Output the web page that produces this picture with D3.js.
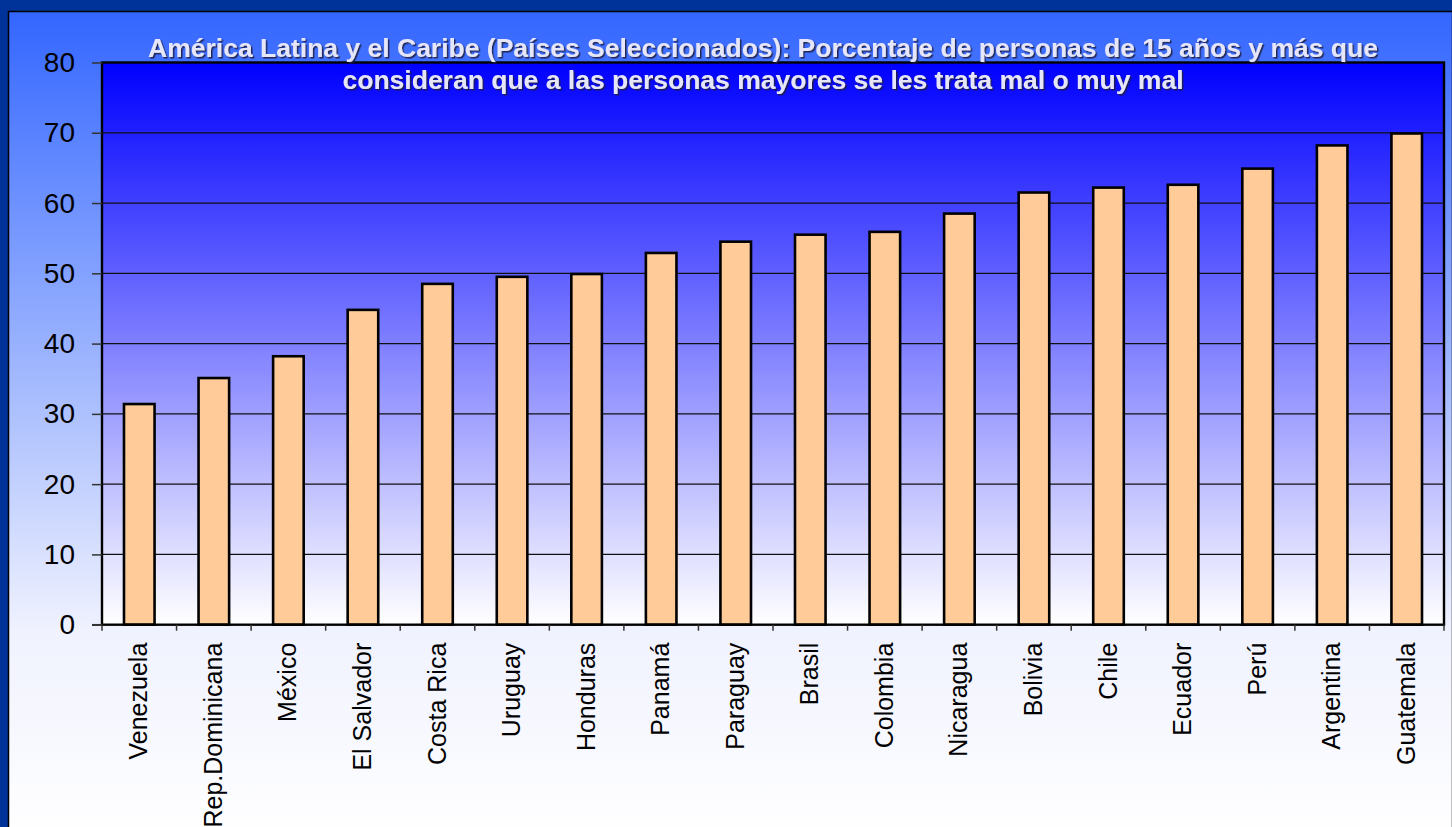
<!DOCTYPE html>
<html>
<head>
<meta charset="utf-8">
<script src="https://cdn.jsdelivr.net/npm/d3@7"></script>
<style>
  body { margin: 0; background: #003399; }
  svg { display: block; font-family: "Liberation Sans", Arial, sans-serif; }
</style>
</head>
<body>
<svg id="chart" width="1452" height="827"></svg>
<script>
const countries = ['Venezuela', 'Rep.Dominicana', 'México', 'El Salvador', 'Costa Rica', 'Uruguay',
  'Honduras', 'Panamá', 'Paraguay', 'Brasil', 'Colombia', 'Nicaragua', 'Bolivia', 'Chile',
  'Ecuador', 'Perú', 'Argentina', 'Guatemala'];
const values = [31.4, 35.1, 38.2, 44.8, 48.5, 49.5, 49.9, 52.9, 54.5, 55.5, 55.9, 58.5, 61.5, 62.2,
  62.6, 64.9, 68.2, 69.9];
const yTicks = [0, 10, 20, 30, 40, 50, 60, 70, 80];
const titleLines = [
  'América Latina y el Caribe (Países Seleccionados): Porcentaje de personas de 15 años y más que',
  'consideran que a las personas mayores se les trata mal o muy mal'
];

const W = 1452, H = 827;
const plot = {left: 102, right: 1444, top: 62.5, bottom: 624.7};

const svg = d3.select('#chart');
const defs = svg.append('defs');

const bgGrad = defs.append('linearGradient').attr('id', 'bg').attr('x1', 0).attr('y1', 0).attr('x2', 0).attr('y2', 1);
bgGrad.append('stop').attr('offset', '0%').attr('stop-color', '#3366ff');
bgGrad.append('stop').attr('offset', '75%').attr('stop-color', '#f0f2fe');
bgGrad.append('stop').attr('offset', '100%').attr('stop-color', '#ffffff');

const plotGrad = defs.append('linearGradient').attr('id', 'plotbg').attr('x1', 0).attr('y1', 0).attr('x2', 0).attr('y2', 1);
plotGrad.append('stop').attr('offset', '0%').attr('stop-color', '#0000ff');
plotGrad.append('stop').attr('offset', '100%').attr('stop-color', '#ffffff');

const shadow = defs.append('filter').attr('id', 'shadow');
shadow.append('feDropShadow').attr('dx', 1.5).attr('dy', 1.5).attr('stdDeviation', 0.6)
  .attr('flood-color', '#1a1a40').attr('flood-opacity', 0.9);

// outer panel
svg.append('rect').attr('width', W).attr('height', H).attr('fill', '#003399');
svg.append('rect')
  .attr('x', 8.5).attr('y', 11.5).attr('width', W - 8).attr('height', H)
  .attr('fill', 'url(#bg)').attr('stroke', '#000').attr('stroke-width', 1.5);

const y = d3.scaleLinear().domain([0, 80]).range([plot.bottom, plot.top]);
const x = d3.scaleBand().domain(countries).range([plot.left, plot.right]).paddingInner(0.59).paddingOuter(0.295);
const xEdges = d3.scaleLinear().domain([0, countries.length]).range([plot.left, plot.right]);

// plot area background
svg.append('rect')
  .attr('x', plot.left).attr('y', plot.top)
  .attr('width', plot.right - plot.left).attr('height', plot.bottom - plot.top)
  .attr('fill', 'url(#plotbg)');

// gridlines
svg.append('g').selectAll('line')
  .data(yTicks.slice(1, -1))
  .join('line')
  .attr('x1', plot.left).attr('x2', plot.right)
  .attr('y1', d => y(d)).attr('y2', d => y(d))
  .attr('stroke', '#111').attr('stroke-width', 1.2);

// bars
svg.append('g').selectAll('rect')
  .data(values)
  .join('rect')
  .attr('x', (d, i) => x(countries[i]))
  .attr('y', d => y(d))
  .attr('width', x.bandwidth())
  .attr('height', d => plot.bottom - y(d))
  .attr('fill', '#ffcc99')
  .attr('stroke', '#000')
  .attr('stroke-width', 2.6);

// plot frame
svg.append('rect')
  .attr('x', plot.left).attr('y', plot.top)
  .attr('width', plot.right - plot.left).attr('height', plot.bottom - plot.top)
  .attr('fill', 'none').attr('stroke', '#000').attr('stroke-width', 2.4);

// y axis
const yAxis = d3.axisLeft(y).tickValues(yTicks).tickSize(10).tickPadding(17);
const yG = svg.append('g').attr('transform', `translate(${plot.left},0)`).call(yAxis);
yG.select('.domain').remove();
yG.selectAll('line').attr('stroke', '#333').attr('stroke-width', 1.5);
yG.selectAll('text').attr('font-size', 28).attr('fill', '#000')
  .attr('font-family', '"Liberation Sans", Arial, sans-serif');

// x axis ticks between categories
svg.append('g').selectAll('line')
  .data(d3.range(countries.length + 1))
  .join('line')
  .attr('x1', d => xEdges(d)).attr('x2', d => xEdges(d))
  .attr('y1', plot.bottom).attr('y2', plot.bottom + 6)
  .attr('stroke', '#333').attr('stroke-width', 1.5);
svg.append('line')
  .attr('x1', plot.left - 10).attr('x2', plot.left)
  .attr('y1', plot.bottom).attr('y2', plot.bottom)
  .attr('stroke', '#333').attr('stroke-width', 1.5);

// x labels
svg.append('g').selectAll('text')
  .data(countries)
  .join('text')
  .attr('transform', d => `translate(${x(d) + x.bandwidth() / 2 + 8},${plot.bottom + 18}) rotate(-90)`)
  .attr('text-anchor', 'end')
  .attr('font-size', 25)
  .attr('fill', '#000')
  .text(d => d);

// title
svg.append('g').selectAll('text')
  .data(titleLines)
  .join('text')
  .attr('x', 763)
  .attr('y', (d, i) => 57 + i * 32)
  .attr('text-anchor', 'middle')
  .attr('font-size', 26.5)
  .attr('font-weight', 'bold')
  .attr('fill', '#e6e6fa')
  .attr('filter', 'url(#shadow)')
  .text(d => d);
</script>
</body>
</html>
